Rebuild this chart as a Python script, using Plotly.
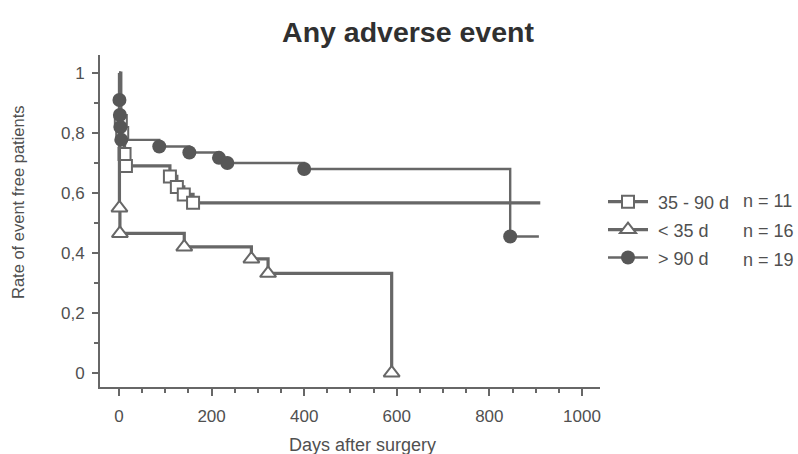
import plotly.graph_objects as go

# ---- data ----
days_35_90 = [0, 4, 7, 12, 15, 110, 125, 140, 160]
rate_35_90 = [1.0, 0.84, 0.80, 0.73, 0.69, 0.655, 0.62, 0.595, 0.567]
end_35_90 = 910

days_lt35 = [0, 1, 2, 141, 286, 322, 589]
rate_lt35 = [1.0, 0.55, 0.465, 0.42, 0.38, 0.332, 0.0]
end_lt35 = 589

days_gt90 = [0, 1, 2, 3, 5, 87, 152, 216, 234, 400, 845]
rate_gt90 = [1.0, 0.91, 0.86, 0.82, 0.777, 0.755, 0.735, 0.717, 0.70, 0.68, 0.455]
end_gt90 = 907

group_names = ["35 - 90 d", "< 35 d", "> 90 d"]
group_counts = ["n = 11", "n = 16", "n = 19"]

NB = "\u00a0"
LINE = "#676767"
TXT = "#505050"

groups = [
    (days_35_90, rate_35_90, end_35_90, dict(symbol="square", size=12, color="white",
                                              line=dict(color=LINE, width=2)), 3.2),
    (days_lt35, rate_lt35, end_lt35, dict(symbol="triangle-up", size=14, color="white",
                                           line=dict(color=LINE, width=2)), 3.2),
    (days_gt90, rate_gt90, end_gt90, dict(symbol="circle", size=14, color="#575757",
                                           line=dict(color="#575757", width=0)), 2.4),
]

fig = go.Figure()
for i, (d, r, end, mk, lw) in enumerate(groups):
    xs = d + [end]
    ys = r + [r[-1]]
    fig.add_trace(go.Scatter(x=xs, y=ys, mode="lines", line=dict(color=LINE, width=lw, shape="hv"),
                             showlegend=False, hoverinfo="skip", legendgroup=str(i)))
    fig.add_trace(go.Scatter(x=d[1:], y=r[1:], mode="markers", marker=mk, showlegend=False,
                             legendgroup=str(i)))
for i, (d, r, end, mk, lw) in enumerate(groups):
    fig.add_trace(go.Scatter(x=[None], y=[None], mode="lines+markers", name=NB + group_names[i],
                             line=dict(color=LINE, width=lw), marker=mk, legendgroup=str(i)))

W, H = 798, 454
L, R, T, B = 100, 198, 55, 67
pw, ph = W - L - R, H - T - B


def px_x(x):  # reference pixel -> paper x
    return (x - L) / pw


def px_y(y):  # reference pixel -> paper y
    return (H - B - y) / ph


legend_rows_y = [201, 231, 260]
annotations = [
    dict(text="Days after surgery", x=px_x(362), y=px_y(445),
         xref="paper", yref="paper", xanchor="center", yanchor="middle",
         showarrow=False, font=dict(size=18, color=TXT)),
    dict(text="Rate of event free patients", x=px_x(18), y=px_y(202),
         xref="paper", yref="paper", xanchor="center", yanchor="middle", textangle=-90,
         showarrow=False, font=dict(size=16.5, color=TXT)),
]
for cnt, yy in zip(group_counts, legend_rows_y):
    annotations.append(dict(text=cnt, x=px_x(741), y=px_y(yy), xref="paper", yref="paper",
                            xanchor="left", yanchor="middle", showarrow=False,
                            font=dict(size=18, color=TXT)))

fig.update_layout(
    width=W, height=H,
    margin=dict(l=L, r=R, t=T, b=B, autoexpand=False),
    paper_bgcolor="white", plot_bgcolor="white",
    separators=", ",
    font=dict(family="Liberation Sans, Arial, sans-serif", color=TXT, size=17),
    title=dict(text="Any adverse event", x=408 / W, xanchor="center", xref="container",
               y=1 - 32 / H, yanchor="middle", yref="container",
               font=dict(size=28.5, color="#303030", weight="bold")),
    legend=dict(x=603 / W, xanchor="left", xref="container",
                y=1 - 183.5 / H, yanchor="top", yref="container",
                font=dict(size=18, color=TXT), itemwidth=40, tracegroupgap=1.5,
                bgcolor="rgba(0,0,0,0)"),
    showlegend=True,
    annotations=annotations,
)
fig.update_xaxes(range=[-41, 1039], showgrid=False, zeroline=False, automargin=False,
                 showline=True, linecolor=LINE, linewidth=2,
                 ticks="outside", ticklen=7, tickwidth=2, tickcolor=LINE,
                 tickvals=[0, 200, 400, 600, 800, 1000], ticklabelstandoff=6,
                 minor=dict(tickvals=list(range(50, 1001, 50)), ticks="outside", ticklen=4,
                            tickwidth=2, tickcolor=LINE),
                 tickfont=dict(size=17, color=TXT))
fig.update_yaxes(range=[-0.047, 1.06], showgrid=False, zeroline=False, automargin=False,
                 showline=True, linecolor=LINE, linewidth=2,
                 ticks="outside", ticklen=6, tickwidth=2, tickcolor=LINE,
                 tickvals=[0, 0.2, 0.4, 0.6, 0.8, 1.0], ticklabelstandoff=4,
                 minor=dict(tickvals=[0.1, 0.3, 0.5, 0.7, 0.9], ticks="outside", ticklen=4,
                            tickwidth=2, tickcolor=LINE),
                 tickfont=dict(size=17, color=TXT))

# remove the default page margin so the 798x454 figure fills the window exactly
fig.write_html("out.html", config={"displayModeBar": False},
               post_script="document.body.style.margin='0';document.body.style.overflow='hidden';")
